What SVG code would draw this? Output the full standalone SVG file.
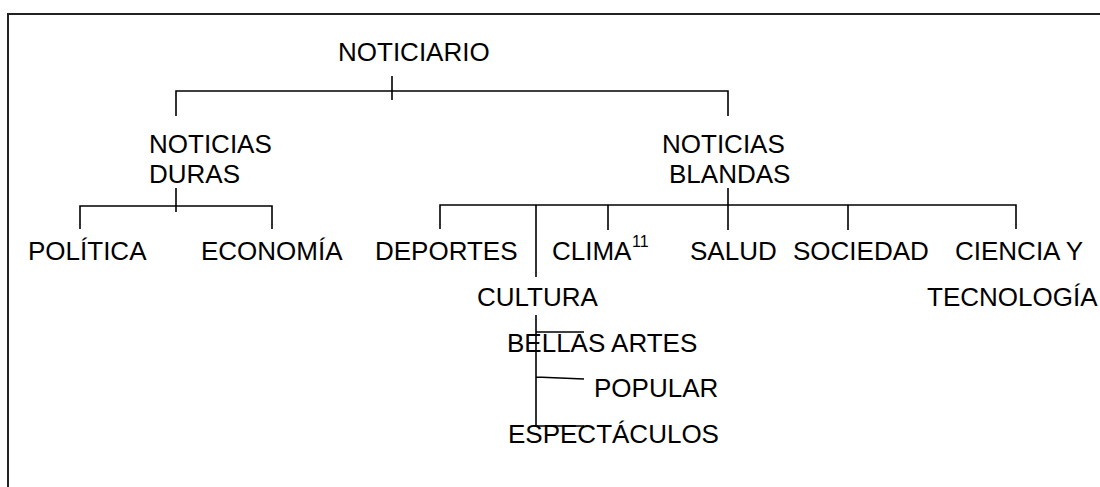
<svg xmlns="http://www.w3.org/2000/svg" width="1100" height="487" viewBox="0 0 1100 487">
<style>
.t{font-family:"Liberation Sans",Arial,Helvetica,sans-serif;font-size:26px;fill:#000}
.s{font-family:"Liberation Sans",Arial,Helvetica,sans-serif;font-size:16px;fill:#000}
.c{stroke:#000;stroke-width:1.6;fill:none}
.f{stroke:#222;stroke-width:2;fill:none}
</style>
<rect x="0" y="0" width="1100" height="487" fill="#fff"/>
<path class="f" d="M8,487 V14 H1100"/>
<g id="connectors">
<path class="c" d="M392,76 V100 M176,116 V91 H728 V116"/>
<path class="c" d="M176,188 V212 M80,229 V206 H272 V229"/>
<path class="c" d="M728,188 V230 M440,229 V205 H1016 V229 M536,205 V277 M608,205 V230 M848,205 V230"/>
<path class="c" d="M536,315 V426 M536,332 H584 M536,377 L584,379 M536,426 H584"/>
</g>
<g id="noticiario"><text class="t" x="338" y="61">NOTICIARIO</text></g>
<g id="duras"><text class="t" x="149" y="153">NOTICIAS</text><text class="t" x="149" y="183">DURAS</text></g>
<g id="blandas"><text class="t" x="662" y="153">NOTICIAS</text><text class="t" x="669" y="183">BLANDAS</text></g>
<g id="politica"><text class="t" x="28" y="260">POLÍTICA</text></g>
<g id="economia"><text class="t" x="201" y="260">ECONOMÍA</text></g>
<g id="deportes"><text class="t" x="375" y="260">DEPORTES</text></g>
<g id="clima"><text class="t" x="552" y="260">CLIMA</text><text class="s" x="632" y="247">11</text></g>
<g id="salud"><text class="t" x="690" y="260">SALUD</text></g>
<g id="sociedad"><text class="t" x="793" y="260">SOCIEDAD</text></g>
<g id="ciencia"><text class="t" x="955" y="260">CIENCIA Y</text><text class="t" x="927" y="306">TECNOLOGÍA</text></g>
<g id="cultura"><text class="t" x="477" y="306">CULTURA</text></g>
<g id="bellas"><text class="t" x="507" y="352">BELLAS ARTES</text></g>
<g id="popular"><text class="t" x="594" y="397">POPULAR</text></g>
<g id="espectaculos"><text class="t" x="508" y="443">ESPECTÁCULOS</text></g>
</svg>
